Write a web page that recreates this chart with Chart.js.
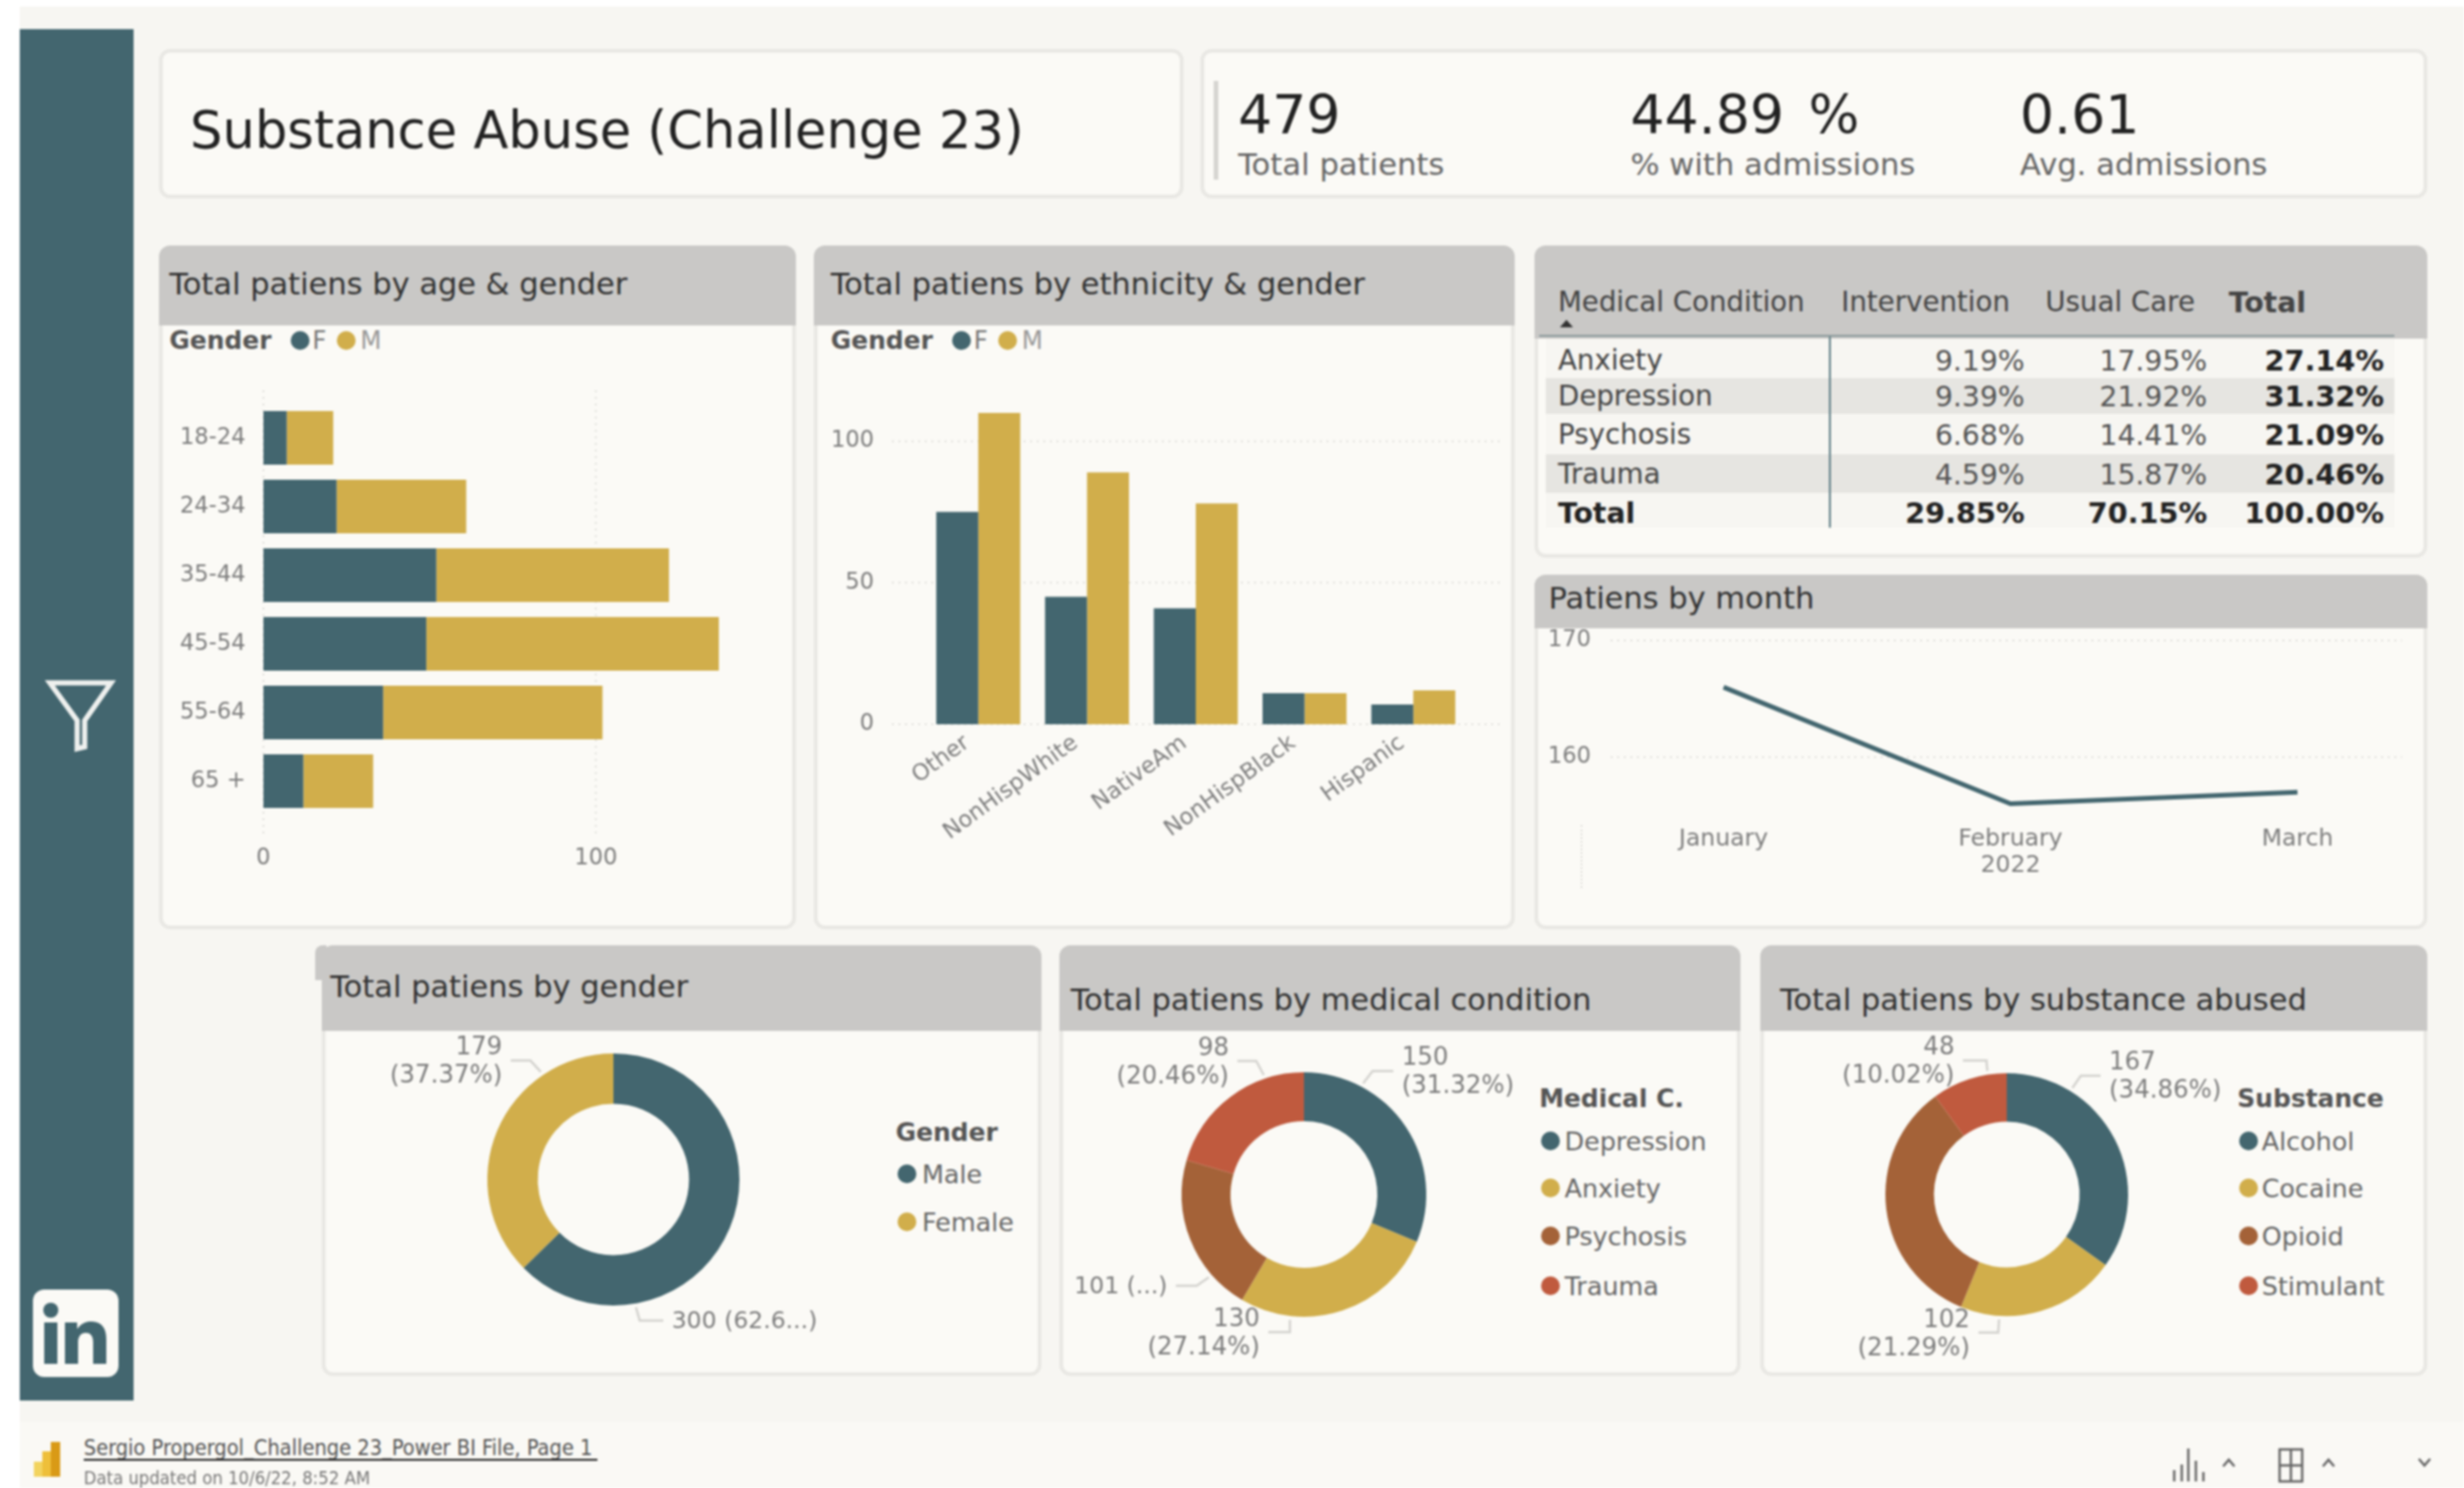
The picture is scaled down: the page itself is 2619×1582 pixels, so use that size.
<!DOCTYPE html>
<html><head><meta charset="utf-8">
<script src="https://cdn.jsdelivr.net/npm/chart.js@4"></script>
<style>
html,body{margin:0;padding:0;background:#fff;width:2619px;height:1582px;overflow:hidden}
body{font-family:"DejaVu Sans",sans-serif;color:#333}
#root{position:absolute;left:0;top:0;width:2619px;height:1582px;filter:blur(.9px)}
.a{position:absolute}
.t{position:absolute;white-space:nowrap;line-height:1;transform:translateY(-50%)}
canvas{position:absolute}
</style></head><body><div id="root"></div>
<script>
// ---- data ----
const ageLabels=['18-24','24-34','35-44','45-54','55-64','65 +'];
const ageF=[7,22,52,49,36,12];
const ageM=[14,39,70,88,66,21];
const ethLabels=['Other','NonHispWhite','NativeAm','NonHispBlack','Hispanic'];
const ethF=[75,45,41,11,7];
const ethM=[110,89,78,11,12];
const monthLabels=['January','February','March'];
const monthValues=[166,156,157];
const genderLabels=['Male','Female'];
const genderValues=[300,179];
const genderText=[['300 (62.6...)'],['179','(37.37%)']];
const medLabels=['Depression','Anxiety','Psychosis','Trauma'];
const medValues=[150,130,101,98];
const medText=[['150','(31.32%)'],['130','(27.14%)'],['101 (...)'],['98','(20.46%)']];
const subLabels=['Alcohol','Cocaine','Opioid','Stimulant'];
const subValues=[167,102,162,48];
const subText=[['167','(34.86%)'],['102','(21.29%)'],null,['48','(10.02%)']];
const tableHead=['Medical Condition','Intervention','Usual Care','Total'];
const tableRows=[['Anxiety','9.19%','17.95%','27.14%'],['Depression','9.39%','21.92%','31.32%'],['Psychosis','6.68%','14.41%','21.09%'],['Trauma','4.59%','15.87%','20.46%'],['Total','29.85%','70.15%','100.00%']];
const kpiValues=['479','44.89 %','0.61'];
const kpiNames=['Total patients','% with admissions','Avg. admissions'];
// ---- style ----
const TEAL='#43666f',GOLD='#d1ae4b',BROWN='#a46238',RED='#c05a3e',GRAY='#7d7d7d',DOT='#e2e1dd',HDR='#c9c8c6';
const FONT='"DejaVu Sans"';
const root=document.getElementById('root');
function box(l,t,w,h,bg,extra){const d=document.createElement('div');d.className='a';d.style.cssText=`left:${l}px;top:${t}px;width:${w}px;height:${h}px;background:${bg};${extra||''}`;root.appendChild(d);return d;}
function text(s,x,y,size,color,opt){opt=opt||{};const d=document.createElement('div');d.className='t';d.textContent=s;
 d.style.cssText+=`top:${y}px;font-size:${size}px;color:${color};font-weight:${opt.bold?'bold':'normal'};`+(opt.right?`right:${2619-x}px;`:`left:${x}px;`)+(opt.css||'');root.appendChild(d);return d;}
function card(l,t,r,b,hb){box(l,t,r-l,b-t,'#fbfaf6','border:4px solid #e9e8e4;border-radius:12px;box-sizing:border-box');
 if(hb)box(l,t,r-l,hb-t,HDR,'border-radius:12px 12px 0 0');}
// page background
box(21,7,2598,1505,'#f7f6f2');box(21,1512,2598,70,'#faf9f5');
box(21,31,121,1458,TEAL);
// sidebar and footer icons
root.insertAdjacentHTML('beforeend',`<svg class="a" style="left:40px;top:716px" width="90" height="90" viewBox="0 0 90 90"><path d="M13 10H78L50 50V78L42 80V50Z" fill="none" stroke="#eef0ee" stroke-width="5.500"/></svg>
<svg class="a" style="left:33px;top:1369px" width="96" height="98" viewBox="0 0 96 98"><rect x="2" y="2" width="91" height="93" rx="12" fill="#fbfaf6"/><circle cx="21" cy="24" r="8" fill="${TEAL}"/><rect x="14" y="37" width="14" height="44" fill="${TEAL}"/><path d="M36 37H49V44C53 38 59 35.500 65 36C75 36.500 80 43 80 55V81H66V58C66 51 63 48 58 48C53 48 50 52 50 58V81H36Z" fill="${TEAL}"/></svg>
<svg class="a" style="left:30px;top:1528px" width="42" height="46" viewBox="0 0 42 46"><rect x="6" y="26" width="9" height="16" fill="#f2d35e"/><rect x="15" y="15" width="9" height="27" fill="#eebf3a"/><rect x="24" y="5" width="10" height="37" fill="#d99a16"/></svg>
<svg class="a" style="left:2301px;top:1535px" width="290" height="44" viewBox="0 0 290 44" fill="none" stroke="#666" stroke-width="2.500"><path d="M10 40V28M18 40V22M25 40V5M33 40V18M41 40V30"/><path d="M62 24L68 17L74 24"/><rect x="122" y="6" width="24" height="34"/><path d="M122 23H146M134 6V40"/><path d="M168 24L174 17L180 24"/><path d="M270 16L276 23L282 16"/></svg>`);
// cards
card(169,52,1258,211);card(1276,52,2580,211);
card(169,261,846,988,346);card(865,261,1610,988,346);
card(1631,261,2580,593,360);card(1631,611,2580,988,668);
card(342,1005,1107,1463,1096);box(335,1005,12,37,HDR,'border-radius:8px 0 0 0');
card(1126,1005,1850,1463,1096);card(1871,1005,2580,1463,1096);
// titles
text('Substance Abuse (Challenge 23)',202,139,54.3,'#222');
box(1290,86,5,105,'#d6d5d1');
[1316,1733,2147].forEach((x,i)=>{text(kpiValues[i],x,122,57,'#222',{css:'word-spacing:8px;'});text(kpiNames[i],x,175,32.6,'#666');});
const TC='#333';
text('Total patiens by age & gender',180,302,32.4,TC);
text('Total patiens by ethnicity & gender',883,302,32.4,TC);
text('Patiens by month',1646,636,32.4,TC);
text('Total patiens by gender',351,1049,32.4,TC);
text('Total patiens by medical condition',1138,1063,32.4,TC);
text('Total patiens by substance abused',1892,1063,32.4,TC);
// legends
function legend(x,y,title,names,cols,dotX,txtX,ys){text(title,x,y,26.5,'#555',{bold:true});names.forEach((n,i)=>{box(dotX,ys[i]-10,20,20,cols[i],'border-radius:50%');text(n,txtX,ys[i],27,'#666');});}
function inline(x){text('Gender',x,362,26.5,'#555',{bold:true});box(x+129,352,20,20,TEAL,'border-radius:50%');text('F',x+152,362,26,'#777');box(x+178,352,20,20,GOLD,'border-radius:50%');text('M',x+203,362,26,'#999');}
inline(180);inline(883);
legend(952,1204,'Gender',genderLabels,[TEAL,GOLD],954,980,[1248,1299]);
legend(1636,1168,'Medical C.',medLabels,[TEAL,GOLD,BROWN,RED],1638,1663,[1213,1263,1314,1367]);
legend(2378,1168,'Substance',subLabels,[TEAL,GOLD,BROWN,RED],2380,2404,[1213,1263,1314,1367]);
// table
const rowTop=[360,402,440,483,524],rowH=[42,38,43,41,37],rowY=[384,422,463,505,546];
const colRight=[0,2152,2346,2534];
[0,2,4].forEach(i=>box(1643,rowTop[i],902,rowH[i],'#f7f6f2'));
[1,3].forEach(i=>box(1643,rowTop[i],902,rowH[i],'#e6e5e1'));
box(1636,356,909,2,'#8c9a9c');box(1944,358,2,203,'#5d7d84');
root.insertAdjacentHTML('beforeend','<svg class="a" style="left:1658px;top:340px" width="14" height="8"><path d="M0 8L7 0L14 8Z" fill="#333"/></svg>');
[1656,1957,2174,2369].forEach((x,i)=>text(tableHead[i],x,322,i===3?30:29.4,'#444',{bold:i===3}));
tableRows.forEach((r,i)=>{const b=i===4;text(r[0],1656,rowY[i],b?30:29.4,b?'#222':'#444',{bold:b});
 for(let c=1;c<4;c++){const bb=b||c===3;text(r[c],colRight[c],rowY[i],bb?30.5:30,bb?'#222':'#555',{right:true,bold:bb});}});
// small axis stub on line chart
box(1680,877,0,67,'transparent','border-left:2px dotted '+DOT);
// footer
const COND='font-family:"DejaVu Sans Condensed","DejaVu Sans";';
text('Sergio Propergol_Challenge 23_Power BI File, Page 1',89,1539,23,'#555',{css:COND});
box(89,1551,546,2,'#222');
text('Data updated on 10/6/22, 8:52 AM',89,1572,19.5,'#777',{css:COND});

// ---- chart helpers ----
function canvas(l,t,w,h){const c=document.createElement('canvas');c.style.left=l+'px';c.style.top=t+'px';c.style.width=w+'px';c.style.height=h+'px';c.width=w;c.height=h;root.appendChild(c);return c;}
const gridExt={id:'gridExt',beforeDatasetsDraw(ch,_,o){const g=ch.ctx,a=ch.chartArea;g.save();g.strokeStyle=DOT;g.lineWidth=2;g.setLineDash([2,5]);
 if(o.x){ch.scales.x.ticks.forEach(t=>{const p=ch.scales.x.getPixelForValue(t.value);g.beginPath();g.moveTo(p,a.top-o.x[0]);g.lineTo(p,a.bottom+o.x[1]);g.stroke();});}
 if(o.y){ch.scales.y.ticks.forEach(t=>{const p=ch.scales.y.getPixelForValue(t.value);g.beginPath();g.moveTo(a.left-o.y[0],p);g.lineTo(a.right+o.y[1],p);g.stroke();});}
 g.restore();}};
const leaders={id:'leaders',afterDatasetsDraw(ch,_,o){const g=ch.ctx,el=ch.getDatasetMeta(0).data[0],cx=el.x,cy=el.y,R=el.outerRadius+4;g.save();
 o.text.forEach((lines,i)=>{if(!lines)return;const [ang,dx,dy,ex]=o.anchors[i],r=ang*Math.PI/180;
  const x0=cx+R*Math.sin(r),y0=cy-R*Math.cos(r),x1=x0+dx,y1=y0+dy,x2=x1+ex;
  g.strokeStyle='#d4d3cf';g.lineWidth=2.5;g.beginPath();g.moveTo(x0,y0);g.lineTo(x1,y1);g.lineTo(x2,y1);g.stroke();
  g.fillStyle=GRAY;g.font=(lines.length>1?'26px ':'25px ')+FONT;g.textBaseline='middle';g.textAlign=ex<0?'right':'left';
  const tx=x2+(ex<0?-9:9);lines.forEach((s,k)=>g.fillText(s,tx,y1+2+(k-(lines.length-1)/2)*30));});
 g.restore();}};
function tickFont(s){return {family:FONT,size:s||24};}
function fixed(size){return s=>{if(s.isHorizontal())s.height=size;else s.width=size;s.paddingTop=s.paddingBottom=s.paddingLeft=s.paddingRight=0;};}
function setTicks(vals){return s=>{s.ticks=vals.map(v=>({value:v}));};}
const base={responsive:false,animation:false,maintainAspectRatio:false,events:[]};
const xTicksAge=[0,100],yTicksEth=[0,50,100],yTicksMonth=[160,170];

// age & gender: plot x 280.., y 428..867
new Chart(canvas(172,400,668,530),{type:'bar',data:{labels:ageLabels,datasets:[
 {label:'F',data:ageF,backgroundColor:TEAL},{label:'M',data:ageM,backgroundColor:GOLD}]},
 options:{...base,indexAxis:'y',layout:{padding:{top:29,right:30,bottom:0,left:0}},
  plugins:{legend:{display:false},tooltip:{enabled:false},gridExt:{x:[14,23]}},
  datasets:{bar:{barPercentage:.784,categoryPercentage:1}},
  scales:{x:{stacked:true,min:0,max:150,grid:{display:false,drawTicks:false},border:{display:false},afterBuildTicks:setTicks(xTicksAge),afterFit:fixed(63),ticks:{color:GRAY,font:tickFont(),padding:31}},
   y:{stacked:true,grid:{display:false,drawTicks:false},border:{display:false},afterFit:fixed(108),ticks:{color:GRAY,font:tickFont(),padding:19}}}},plugins:[gridExt]});

// ethnicity & gender: plot x 982..1560, y 424..770
new Chart(canvas(872,400,732,560),{type:'bar',data:{labels:ethLabels,datasets:[
 {label:'F',data:ethF,backgroundColor:TEAL},{label:'M',data:ethM,backgroundColor:GOLD}]},
 options:{...base,layout:{padding:{top:24,right:44,bottom:0,left:0}},
  plugins:{legend:{display:false},tooltip:{enabled:false},gridExt:{y:[34,37]}},
  datasets:{bar:{barPercentage:1,categoryPercentage:.772}},
  scales:{y:{min:0,max:115,grid:{display:false,drawTicks:false},border:{display:false},afterBuildTicks:setTicks(yTicksEth),afterFit:fixed(110),ticks:{color:GRAY,font:tickFont(),padding:53}},
   x:{grid:{display:false,drawTicks:false},border:{display:false},afterFit:fixed(190),ticks:{color:GRAY,font:tickFont(),padding:6,minRotation:36,maxRotation:36,autoSkip:false,labelOffset:-12}}}},plugins:[gridExt]});

// month: plot x 1832..2442, y 681..867
new Chart(canvas(1640,668,936,267),{type:'line',data:{labels:monthLabels,datasets:[{data:monthValues,borderColor:TEAL,borderWidth:5,pointRadius:0,tension:0,fill:false}]},
 options:{...base,layout:{padding:{top:13,right:134,bottom:0,left:0}},
  plugins:{legend:{display:false},tooltip:{enabled:false},gridExt:{y:[120,111]}},
  scales:{y:{min:155,max:170,grid:{display:false,drawTicks:false},border:{display:false},afterBuildTicks:setTicks(yTicksMonth),afterFit:fixed(192),ticks:{color:GRAY,font:tickFont(),padding:141}},
   x:{offset:false,grid:{display:false,drawTicks:false},border:{display:false},afterFit:fixed(68),title:{display:true,text:'2022',color:GRAY,font:tickFont(25),padding:{top:8,bottom:0}},ticks:{color:GRAY,font:tickFont(25),padding:10,maxRotation:0,autoSkip:false}}}},plugins:[gridExt]});

// doughnuts
function donut(cx,cy,R,labels,values,colors,txt,anchors){const W=380,H=190;
 new Chart(canvas(cx-W,cy-H,2*W,2*H),{type:'doughnut',data:{labels,datasets:[{data:values,backgroundColor:colors,borderWidth:0}]},
  options:{...base,radius:R,cutout:'60%',layout:{padding:0},plugins:{legend:{display:false},tooltip:{enabled:false},leaders:{text:txt,anchors}}},plugins:[leaders]});}
donut(652,1254,134,genderLabels,genderValues,[TEAL,GOLD],genderText,[[170,4,14,25],[-34,-11,-12,-21]]);
donut(1386,1269.5,130,medLabels,medValues,[TEAL,GOLD,BROWN,RED],medText,[[28,10,-13,22],[186.4,0,13,-23],[229,-13,9,-22],[-18.6,-8,-15,-20]]);
donut(2133,1269.5,129,subLabels,subValues,[TEAL,GOLD,BROWN,RED],subText,[[31.6,9,-13,21],[183.5,-1,14,-21],[0,0,0,0],[-8.9,-1,-11,-25]]);
</script></body></html>
